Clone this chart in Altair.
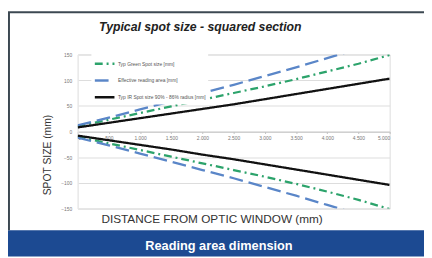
import altair as alt
import pandas as pd

# ---- data ----
distance = [0, 500, 1000, 1500, 2000, 2500, 3000, 3500, 4000, 4500, 5000]
green_upper = [10, 23, 36, 49, 62, 75, 88, 102, 117, 132, 149]
green_lower = [-10, -23, -36, -49, -62, -75, -88, -102, -117, -133, -151]
blue_upper = [12, 27, 43, 59, 75, 91, 108, 125, 143, 161, 179]
blue_lower = [-12, -27, -43, -59, -75, -91, -108, -125, -143, -161, -179]
black_upper = [8, 17, 26, 35, 44, 53, 63, 73, 83, 93, 103]
black_lower = [-8, -17, -26, -35, -45, -54, -64, -74, -84, -94, -104]

series_names = [
    "Typ Green Spot size [mm]",
    "Effective reading area [mm]",
    "Typ IR Spot size 90% - 86% radius [mm]",
]
series_colors = ["#2ca36b", "#5a86c8", "#111111"]
series_dash = [[8, 4, 2, 4], [14, 6], [1, 0]]
y_ticks = [-150, -100, -50, 0, 50, 100, 150]
x_ticks = [0, 500, 1000, 1500, 2000, 2500, 3000, 3500, 4000, 4500, 5000]

chart_title = "Typical spot size - squared section"
band_text = "Reading area dimension"

rows = []
for name, up, lo in [
    (series_names[0], green_upper, green_lower),
    (series_names[1], blue_upper, blue_lower),
    (series_names[2], black_upper, black_lower),
]:
    for d, v in zip(distance, up):
        rows.append({"distance": d, "size": v, "series": name, "half": "upper"})
    for d, v in zip(distance, lo):
        rows.append({"distance": d, "size": v, "series": name, "half": "lower"})
df = pd.DataFrame(rows)

W, H = 318, 157
one = alt.Data(values=[{}])
FONT = "Liberation Sans"


def make_legend():
    return alt.Legend(
        orient="none",
        legendX=14,
        legendY=-4,
        title=None,
        symbolType="stroke",
        symbolSize=400,
        symbolStrokeWidth=2.5,
        labelFontSize=5,
        labelColor="#555555",
        labelOffset=2,
        labelLimit=300,
        rowPadding=-7,
        padding=2,
        fillColor="white",
    )


lines = alt.Chart(df).mark_line(clip=True, strokeWidth=2.3).encode(
    x=alt.X(
        "distance:Q",
        scale=alt.Scale(domain=[0, 5000], nice=False),
        axis=alt.Axis(
            offset=-H / 2,
            values=x_ticks,
            labelExpr="replace(format(datum.value, ','), ',', '.')",
            labelFontSize=5,
            labelColor="#777777",
            labelPadding=2,
            ticks=True,
            tickSize=2,
            tickColor="#c0c0c0",
            domainColor="#c4c4c4",
            grid=False,
            title="DISTANCE FROM OPTIC WINDOW (mm)",
            titleX=136.5,
            titleY=88.5,
            titleBaseline="middle",
            titleAlign="center",
            titleFontSize=12,
            titleFont=FONT,
            titleFontWeight="normal",
            titleColor="#333333",
        ),
    ),
    y=alt.Y(
        "size:Q",
        scale=alt.Scale(domain=[-150, 150], nice=False),
        axis=alt.Axis(
            values=y_ticks,
            labelFontSize=5,
            labelColor="#777777",
            labelPadding=6,
            ticks=False,
            domainColor="#ececec",
            grid=True,
            gridColor="#dcdcdc",
            title="SPOT SIZE (mm)",
            titleX=-31,
            titleY=102,
            titleAngle=270,
            titleAlign="center",
            titleBaseline="middle",
            titleFontSize=10.5,
            titleFont=FONT,
            titleFontWeight="normal",
            titleColor="#333333",
        ),
    ),
    color=alt.Color(
        "series:N",
        scale=alt.Scale(domain=series_names, range=series_colors),
        sort=series_names,
        legend=make_legend(),
    ),
    strokeDash=alt.StrokeDash(
        "series:N",
        scale=alt.Scale(domain=series_names, range=series_dash),
        sort=series_names,
        legend=make_legend(),
    ),
    detail="half:N",
)

frame_top = alt.Chart(one).mark_rule(color="#3c4852", strokeWidth=2, clip=False).encode(
    x=alt.value(-71), x2=alt.value(353), y=alt.value(-43)
)
frame_left = alt.Chart(one).mark_rule(color="#3c4852", strokeWidth=2, clip=False).encode(
    x=alt.value(-70), y=alt.value(-43), y2=alt.value(179)
)
band = alt.Chart(one).mark_rect(color="#1c4a92", clip=False).encode(
    x=alt.value(-71), x2=alt.value(353), y=alt.value(179), y2=alt.value(206)
)
band_label = alt.Chart(one).mark_text(
    text=band_text, color="white", fontSize=13, fontWeight="bold",
    font=FONT, align="center", baseline="alphabetic", clip=False
).encode(x=alt.value(144), y=alt.value(199))
title_label = alt.Chart(one).mark_text(
    text=chart_title, color="#222222", fontSize=12.5, fontWeight="bold",
    fontStyle="italic", font=FONT, align="center",
    baseline="alphabetic", clip=False
).encode(x=alt.value(125), y=alt.value(-24))

chart = alt.layer(
    band, frame_top, frame_left, lines, title_label, band_label
).properties(
    width=W,
    height=H,
    autosize=alt.AutoSizeParams(type="none"),
    padding={"left": 71, "top": 45, "right": 35, "bottom": 48},
    background="white",
).configure_view(strokeOpacity=0).configure(font=FONT)

chart.save("out.html", embed_options={"renderer": "svg", "actions": False})
